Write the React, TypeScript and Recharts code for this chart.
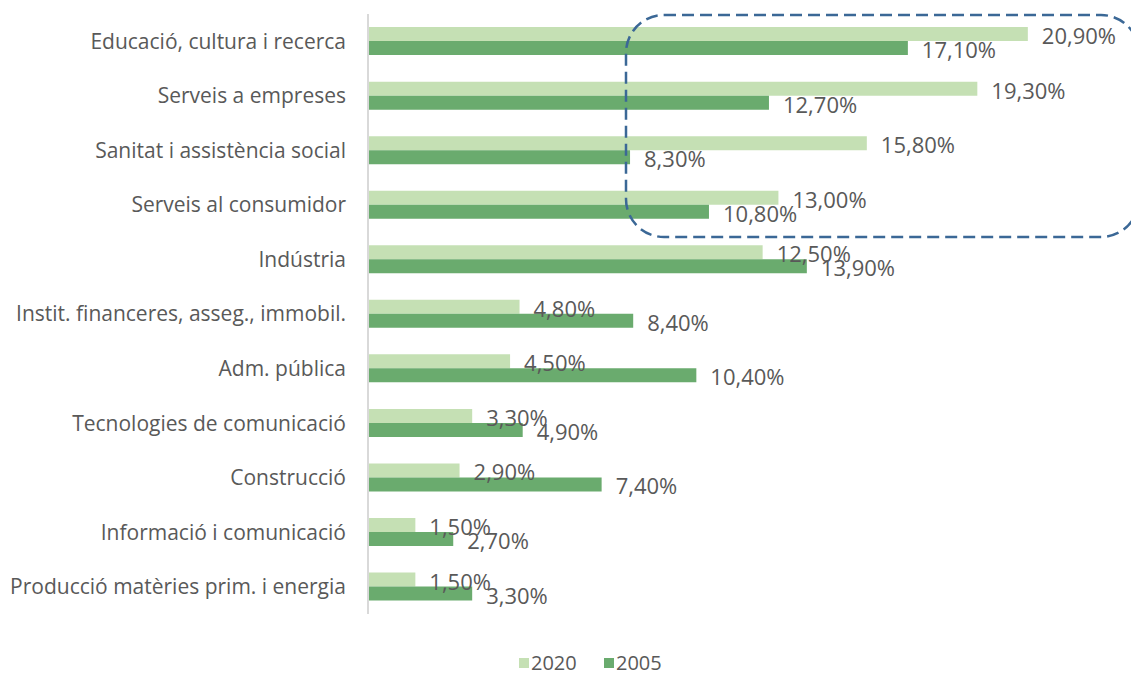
import React from "react";
import { BarChart, Bar, XAxis, YAxis, LabelList, Legend } from "recharts";

const categories = [
  "Educació, cultura i recerca",
  "Serveis a empreses",
  "Sanitat i assistència social",
  "Serveis al consumidor",
  "Indústria",
  "Instit. financeres, asseg., immobil.",
  "Adm. pública",
  "Tecnologies de comunicació",
  "Construcció",
  "Informació i comunicació",
  "Producció matèries prim. i energia",
];
const values2020 = [20.9, 19.3, 15.8, 13.0, 12.5, 4.8, 4.5, 3.3, 2.9, 1.5, 1.5];
const values2005 = [17.1, 12.7, 8.3, 10.8, 13.9, 8.4, 10.4, 4.9, 7.4, 2.7, 3.3];
const seriesNames = ["2020", "2005"];
const colors = ["#C5E0B4", "#6AAB6E"];

const data = categories.map((c, i) => ({ name: c, s2020: values2020[i], s2005: values2005[i] }));

const FONT = "'Open Sans', 'Liberation Sans', sans-serif";
const TEXT = "#595959";

const fmt = (v: number) => v.toFixed(2).replace(".", ",") + "%";

const renderLabel = (props: any) => {
  const { x, y, width, height, value } = props;
  return (
    <text
      x={x + width + 14}
      y={y + height / 2 + 1}
      fill={TEXT}
      fontSize={22}
      fontFamily={FONT}
      dominantBaseline="central"
      textAnchor="start"
    >
      {fmt(value)}
    </text>
  );
};

const LegendContent = () => (
  <div style={{ position: "relative", width: 1131, height: 60, fontFamily: FONT, fontSize: 20, lineHeight: "22px", color: TEXT }}>
    {seriesNames.map((n, i) => (
      <div key={n} style={{ position: "absolute", left: 519 + i * 85, top: 38, height: 22, display: "flex", alignItems: "center" }}>
        <span style={{ display: "inline-block", width: 10, height: 10, background: colors[i], marginRight: 2 }} />
        <span>{n}</span>
      </div>
    ))}
  </div>
);

export default function App() {
  return (
    <div style={{ position: "absolute", left: 0, top: 0, width: 1131, height: 675, background: "#fff", overflow: "hidden" }}>
      <BarChart
        width={1131}
        height={675}
        data={data}
        layout="vertical"
        margin={{ top: 14, right: 100, bottom: 1, left: 0 }}
        barCategoryGap="24%"
        barGap={0}
      >
        <XAxis type="number" domain={[0, 21]} hide />
        <YAxis
          type="category"
          dataKey="name"
          width={368}
          tickLine={false}
          tickSize={20}
          tickMargin={2}
          axisLine={{ stroke: "#D9D9D9", strokeWidth: 2 }}
          tick={{ fill: TEXT, fontSize: 21, fontFamily: FONT }}
          interval={0}
        />
        <Legend
          verticalAlign="bottom"
          height={60}
          wrapperStyle={{ left: 0, width: 1131 }}
          content={<LegendContent />}
        />
        <Bar dataKey="s2020" name="2020" fill={colors[0]} isAnimationActive={false}>
          <LabelList dataKey="s2020" content={renderLabel} />
        </Bar>
        <Bar dataKey="s2005" name="2005" fill={colors[1]} isAnimationActive={false}>
          <LabelList dataKey="s2005" content={renderLabel} />
        </Bar>
      </BarChart>
      <svg
        width={1131}
        height={675}
        style={{ position: "absolute", left: 0, top: 0, pointerEvents: "none" }}
      >
        <rect
          x={626}
          y={15}
          width={513}
          height={222}
          rx={38}
          ry={38}
          fill="none"
          stroke="#3B6896"
          strokeWidth={2.5}
          strokeDasharray="12 6"
        />
      </svg>
    </div>
  );
}
